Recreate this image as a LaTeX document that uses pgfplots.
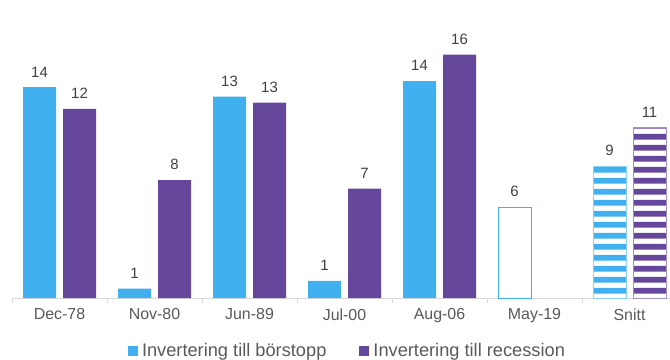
\documentclass[border=0pt]{standalone}
\usepackage{fontspec}
\setmainfont{Liberation Sans}
\usepackage{pgfplots}
\usepackage{pgfplotstable}
\pgfplotsset{compat=1.18}
\usetikzlibrary{patterns}
\definecolor{cblue}{HTML}{41B0EE}
\definecolor{cpurple}{HTML}{65479B}
\definecolor{axisgray}{HTML}{D9D9D9}
\definecolor{lblgray}{HTML}{404040}
\definecolor{tickgray}{HTML}{595959}

\pgfdeclarepatternformonly{hstripes}{\pgfqpoint{0bp}{0bp}}{\pgfqpoint{700bp}{11bp}}{\pgfqpoint{700bp}{11bp}}{%
  \pgfpathrectangle{\pgfqpoint{0bp}{0.3bp}}{\pgfqpoint{700bp}{6.3bp}}\pgfusepath{fill}}

\pgfplotstableread{
x y lab
0 13.6 14
1 0.6 1
2 13.0 13
3 1.1 1
4 14.0 14
}\blueA
\pgfplotstableread{
x y lab
0 12.2 12
1 7.6 8
2 12.6 13
3 7.05 7
4 15.7 16
}\purpleA
\pgfplotstableread{
x y lab
5 5.85 6
}\blueM
\pgfplotstableread{
x y lab
6 8.5 9
}\blueS
\pgfplotstableread{
x y lab
6 11.0 11
}\purpleS

\begin{document}
\begin{tikzpicture}
\useasboundingbox (0,0) rectangle (670bp,360bp);
\begin{axis}[
  at={(12bp,62bp)}, anchor=south west,
  scale only axis, width=658bp, height=298bp,
  xmin=-0.5, xmax=6.426, ymin=0, ymax=19.23,
  ybar, bar width=33bp,
  axis x line*=bottom, axis y line=none,
  x axis line style={axisgray, line width=0.8bp, -},
  xtick={0,...,6},
  xticklabels={Dec-78,Nov-80,Jun-89,Jul-00,Aug-06,May-19,Snitt},
  major tick length=0pt,
  extra x ticks={-0.5,0.5,1.5,2.5,3.5,4.5,5.5},
  extra x tick labels={},
  extra x tick style={major tick length=5bp, tick align=outside, tick style={axisgray, line width=0.8bp}},
  xticklabel style={font=\fontsize{16}{18}\selectfont, text=tickgray, yshift=-7bp},
  ytick=\empty,
  point meta=explicit symbolic,
  nodes near coords,
  nodes near coords style={font=\fontsize{15}{17}\selectfont, text=lblgray, inner sep=0pt, anchor=south, yshift=10bp},
  legend columns=2,
  legend cell align=left,
  legend image code/.code={\fill[#1] (0bp,-5bp) rectangle (10bp,5bp);},
  legend style={at={(axis description cs:0.1763,0)}, anchor=west, yshift=-52.5bp,
    draw=none, fill=none, inner sep=0pt, outer sep=0pt,
    font=\fontsize{18.3}{20}\selectfont, text=tickgray,
    nodes={inner sep=0pt},
    /tikz/every odd column/.append style={column sep=4bp},
    /tikz/every even column/.append style={column sep=33bp}},
  clip=false,
]
\addplot[ybar, bar shift=-20bp, fill=cblue, draw=none] table[x=x,y=y,meta=lab] {\blueA};
\addplot[ybar, bar shift=20bp, fill=cpurple, draw=none] table[x=x,y=y,meta=lab] {\purpleA};
\addplot[ybar, bar shift=-20bp, fill=white, draw=cblue, line width=1bp, forget plot] table[x=x,y=y,meta=lab] {\blueM};
\addplot[ybar, bar shift=-20bp, draw=cblue!60, line width=0.6bp, pattern=hstripes, pattern color=cblue, forget plot] table[x=x,y=y,meta=lab] {\blueS};
\addplot[ybar, bar shift=20bp, draw=cpurple!60, line width=0.6bp, pattern=hstripes, pattern color=cpurple, forget plot] table[x=x,y=y,meta=lab] {\purpleS};
\legend{Invertering till börstopp, Invertering till recession}
\end{axis}
\end{tikzpicture}
\end{document}
